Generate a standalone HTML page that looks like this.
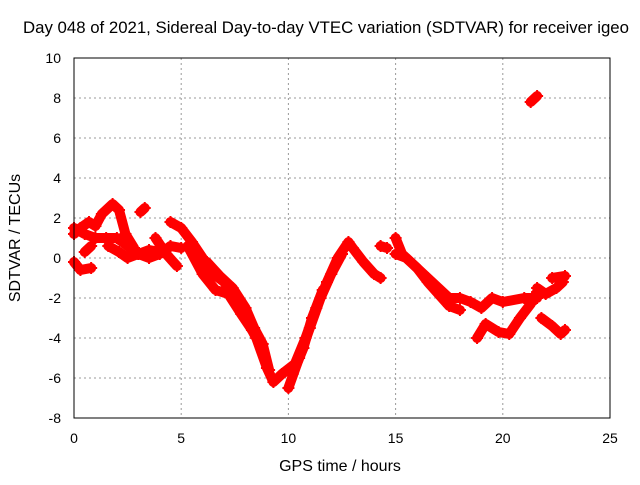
<!DOCTYPE html>
<html><head><meta charset="utf-8"><style>
body{margin:0;background:#fff}
svg text{font-family:"Liberation Sans",sans-serif;font-size:14px;fill:#000}
</style></head><body>
<svg id="chart" width="640" height="480" xmlns="http://www.w3.org/2000/svg">
<text x="326" y="33" text-anchor="middle" style="font-size:16.8px">Day 048 of 2021, Sidereal Day-to-day VTEC variation (SDTVAR) for receiver igeo</text>
<text x="340" y="471" text-anchor="middle" style="font-size:16px">GPS time / hours</text>
<text transform="translate(20,238) rotate(-90)" text-anchor="middle" style="font-size:16px">SDTVAR / TECUs</text>
<g id="grid"></g><g id="marks"></g>
<rect x="74" y="58" width="536" height="360" fill="none" stroke="#000" stroke-width="1"/>
</svg>
<script>
const xTicks=[0,5,10,15,20,25];
const yTicks=[-8,-6,-4,-2,0,2,4,6,8,10];
const trackMain=[[4.5,1.8],[5,1.5],[5.5,0.8],[6,0],[6.5,-0.8],[7,-1.2],[7.5,-2],[8,-3],[8.5,-4],[9,-5.5],[9.3,-6.2],[9.7,-5.8],[10.3,-5.3],[10.8,-4],[11.3,-2.5],[11.8,-1.2],[12.3,0],[12.8,0.8],[13,0.5],[13.5,-0.2],[14,-0.8],[14.3,-1]];
const trackMain2=[[6.2,-0.2],[6.8,-0.9],[7.4,-1.5],[8,-2.5],[8.4,-3.5],[8.8,-4.3],[9.1,-5.6]];
const trackB=[[5.3,0.6],[6,-0.8],[6.6,-1.6],[7.2,-1.8],[7.8,-2.8],[8.3,-3.6]];
const trackC=[[10,-6.5],[10.5,-5],[11,-3.5],[11.5,-2],[12,-0.8],[12.5,0.2]];
const trackC2=[[10.2,-5.8],[10.7,-4.5],[11.1,-3],[11.6,-1.6]];
const trackEarly1=[[0,1.2],[0.3,1.5],[0.7,1.8],[1,1.6],[1.3,2.2],[1.8,2.7],[2.1,2.4],[2.4,1.2],[2.8,0.5]];
const trackEarly2=[[0,1.5],[0.5,1.2],[1,1.0],[1.5,1.0],[2,1.0],[2.5,0.6],[3,0.2],[3.5,0],[4,0.2],[4.5,0.6],[5,0.5]];
const trackEarly3=[[1.6,0.6],[2.1,0.3],[2.5,0],[3,0.2],[3.5,0.4],[4,0.3]];
const trackEarly4=[[0,-0.2],[0.3,-0.6],[0.8,-0.5]];
const trackEarly5=[[3.8,1.0],[4.3,0.2],[4.8,-0.4]];
const trackBlip=[[3.1,2.3],[3.3,2.5]];
const trackBlip2=[[0.5,0.3],[0.8,0.6]];
const trackMid=[[14.3,0.6],[14.6,0.5]];
const trackLate1=[[15,1.0],[15.3,0.2],[16,-0.5],[16.5,-1],[17,-1.5],[17.5,-2],[18,-2],[18.5,-2.2],[19,-2.5],[19.5,-2],[20,-2.2],[21,-2],[21.6,-2]];
const trackLate2=[[15,0.2],[15.5,0],[16,-0.5],[16.5,-1.2],[17,-1.8],[17.5,-2.4],[18,-2.6]];
const trackLoop=[[18.8,-4],[19.2,-3.3],[19.8,-3.7],[20.3,-3.8],[20.8,-3],[21.3,-2.3],[21.6,-1.7]];
const trackRight1=[[21.6,-1.5],[22,-1.8],[22.5,-1.5],[22.8,-1.2]];
const trackRight2=[[22.3,-1],[22.9,-0.9]];
const trackRight3=[[21.8,-3],[22.3,-3.4],[22.7,-3.8],[22.9,-3.6]];
const trackSpike=[[21.3,7.8],[21.6,8.1]];
const tracks=[trackMain,trackMain2,trackB,trackC,trackC2,trackEarly1,trackEarly2,trackEarly3,trackEarly4,trackEarly5,trackBlip,trackBlip2,trackMid,trackLate1,trackLate2,trackLoop,trackRight1,trackRight2,trackRight3,trackSpike];
const X=v=>74+v*536/25, Y=v=>418-(v+8)*20;
const NS="http://www.w3.org/2000/svg";
const svg=document.getElementById('chart'),grid=document.getElementById('grid'),marks=document.getElementById('marks');
function mk(t,a,p){const e=document.createElementNS(NS,t);for(const k in a)e.setAttribute(k,a[k]);p.appendChild(e);return e;}
xTicks.forEach(t=>{
 if(t>0&&t<25){const l=mk('line',{x1:X(t),x2:X(t),y1:58,y2:418,stroke:'#999','stroke-dasharray':'2,3'},grid);
 
 }
 const tx=mk('text',{x:X(t),y:443,'text-anchor':'middle'},svg);tx.textContent=t;
 
 
});
yTicks.forEach(t=>{
 if(t>-8&&t<10){const l=mk('line',{x1:74,x2:610,y1:Y(t),y2:Y(t),stroke:'#999','stroke-dasharray':'2,3'},grid);
 
 }
 const tx=mk('text',{x:61,y:Y(t)+5,'text-anchor':'end'},svg);tx.textContent=t;
 
 
});
tracks.forEach(tr=>{
 const pl=mk('polyline',{points:tr.map(p=>X(p[0])+','+Y(p[1])).join(' '),fill:'none',stroke:'#f00','stroke-width':10,'stroke-linejoin':'round','stroke-linecap':'round'},marks);
 
 
 tr.forEach(p=>{const c=mk('path',{d:`M${X(p[0])-6},${Y(p[1])}h12M${X(p[0])},${Y(p[1])-6}v12`,stroke:'#f00','stroke-width':2},marks);
 
 });
});
</script>
</body></html>
